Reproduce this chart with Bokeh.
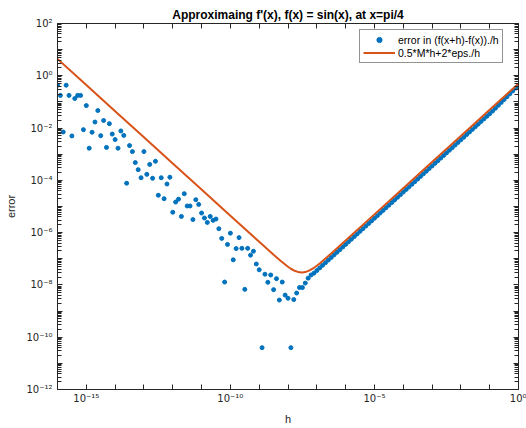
from bokeh.plotting import figure
from bokeh.models import (FixedTicker, LogAxis, Legend, LegendItem,
                          CustomJSTickFormatter, Range1d)
from bokeh.embed import file_html
from bokeh.resources import INLINE

# ---- data (log10 values) ----
h_exp = [
    -16.0, -15.9, -15.8, -15.7, -15.6, -15.5, -15.4, -15.3, -15.2, -15.1,
    -15.0, -14.9, -14.8, -14.7, -14.6, -14.5, -14.4, -14.3, -14.2, -14.1,
    -14.0, -13.9, -13.8, -13.7, -13.6, -13.5, -13.4, -13.3, -13.2, -13.1,
    -13.0, -12.9, -12.8, -12.7, -12.6, -12.5, -12.4, -12.3, -12.2, -12.1,
    -12.0, -11.9, -11.8, -11.7, -11.6, -11.5, -11.4, -11.3, -11.2, -11.1,
    -11.0, -10.9, -10.8, -10.7, -10.6, -10.5, -10.4, -10.3, -10.2, -10.1,
    -10.0, -9.9, -9.8, -9.7, -9.6, -9.5, -9.4, -9.3, -9.2, -9.1,
    -9.0, -8.9, -8.8, -8.7, -8.6, -8.5, -8.4, -8.3, -8.2, -8.1,
    -8.0, -7.9, -7.8, -7.7, -7.6, -7.5, -7.4, -7.3, -7.2, -7.1,
    -7.0, -6.9, -6.8, -6.7, -6.6, -6.5, -6.4, -6.3, -6.2, -6.1,
    -6.0, -5.9, -5.8, -5.7, -5.6, -5.5, -5.4, -5.3, -5.2, -5.1,
    -5.0, -4.9, -4.8, -4.7, -4.6, -4.5, -4.4, -4.3, -4.2, -4.1,
    -4.0, -3.9, -3.8, -3.7, -3.6, -3.5, -3.4, -3.3, -3.2, -3.1,
    -3.0, -2.9, -2.8, -2.7, -2.6, -2.5, -2.4, -2.3, -2.2, -2.1,
    -2.0, -1.9, -1.8, -1.7, -1.6, -1.5, -1.4, -1.3, -1.2, -1.1,
    -1.0, -0.9, -0.8, -0.7, -0.6, -0.5, -0.4, -0.3, -0.2, -0.1,
    0.0,
]
err_exp = [
    -0.36, -0.75, -2.15, -0.36, -0.75, -2.30, -0.87, -0.75, -0.75, -2.06,
    -1.14, -2.77, -2.16, -1.77, -1.33, -2.29, -1.71, -2.74, -1.83, -2.23,
    -2.44, -2.77, -2.11, -2.28, -4.11, -2.67, -2.90, -3.32, -3.59, -3.90,
    -2.90, -3.77, -3.39, -3.92, -3.27, -4.57, -3.90, -4.70, -4.14, -3.88,
    -5.22, -4.83, -4.72, -5.38, -4.51, -4.98, -4.98, -5.50, -4.74, -4.92,
    -5.25, -5.44, -5.61, -5.38, -5.53, -5.48, -5.85, -6.22, -7.89, -6.45,
    -6.02, -7.04, -6.61, -6.19, -6.60, -8.17, -6.60, -6.86, -6.71, -7.20,
    -7.42, -10.40, -7.59, -7.90, -7.62, -8.18, -7.76, -8.58, -7.89, -8.39,
    -8.51, -10.40, -8.56, -8.31, -8.10, -8.10, -7.93, -7.74, -7.62, -7.55,
    -7.45, -7.35, -7.25, -7.15, -7.05, -6.95, -6.85, -6.75, -6.65, -6.55,
    -6.45, -6.35, -6.25, -6.15, -6.05, -5.95, -5.85, -5.75, -5.65, -5.55,
    -5.45, -5.35, -5.25, -5.15, -5.05, -4.95, -4.85, -4.75, -4.65, -4.55,
    -4.45, -4.35, -4.25, -4.15, -4.05, -3.95, -3.85, -3.75, -3.65, -3.55,
    -3.45, -3.35, -3.25, -3.15, -3.05, -2.95, -2.85, -2.75, -2.65, -2.55,
    -2.45, -2.35, -2.25, -2.15, -2.05, -1.95, -1.85, -1.75, -1.65, -1.55,
    -1.45, -1.35, -1.24, -1.13, -1.02, -0.91, -0.80, -0.69, -0.58, -0.47,
    -0.36,
]
line_h_exp = [-16, -15, -14, -13, -12, -11, -10, -9, -8.75, -8.5, -8.25, -8,
              -7.9, -7.75, -7.6, -7.5, -7.4, -7.25, -7.1, -7, -6.9, -6.75,
              -6.5, -6.25, -6, -5, -4, -3, -2, -1, 0]
line_err_exp = [0.647, -0.353, -1.353, -2.353, -3.353, -4.353, -5.353, -6.352,
                -6.601, -6.848, -7.087, -7.306, -7.381, -7.470, -7.519, -7.525,
                -7.508, -7.444, -7.344, -7.264, -7.177, -7.039, -6.797, -6.550,
                -6.301, -5.301, -4.301, -3.301, -2.301, -1.301, -0.301]

x_tick_exp = list(range(-16, 1))
x_label_exp = [-15, -10, -5, 0]
x_label_txt = ["10\u207b\u00b9\u2075", "10\u207b\u00b9\u2070", "10\u207b\u2075", "10\u2070"]
y_tick_exp = list(range(-12, 3))
y_label_exp = [-12, -10, -8, -6, -4, -2, 0, 2]
y_label_txt = ["10\u207b\u00b9\u00b2", "10\u207b\u00b9\u2070", "10\u207b\u2078", "10\u207b\u2076",
               "10\u207b\u2074", "10\u207b\u00b2", "10\u2070", "10\u00b2"]

title_txt = "Approximaing f'(x), f(x) = sin(x), at x=pi/4"
legend_txt = ["error in (f(x+h)-f(x))./h", "0.5*M*h+2*eps./h"]

h = [10.0 ** e for e in h_exp]
err = [10.0 ** e for e in err_exp]
line_h = [10.0 ** e for e in line_h_exp]
line_err = [10.0 ** e for e in line_err_exp]

FONT = "Liberation Sans"
TICKFONT = "DejaVu Sans"
TXT = "#262626"
BLUE = "#0072BD"
ORANGE = "#D95319"

p = figure(width=526, height=428, x_axis_type="log", y_axis_type="log",
           x_range=Range1d(1e-16, 1.0), y_range=Range1d(1e-12, 1e2),
           output_backend="svg", toolbar_location=None,
           min_border_left=57, min_border_right=8, min_border_top=23,
           min_border_bottom=39)
p.background_fill_color = "white"
p.border_fill_color = "white"
p.outline_line_color = TXT
p.xgrid.visible = False
p.ygrid.visible = False

p.title.text = title_txt
p.title.text_font = FONT
p.title.text_font_size = "12px"
p.title.text_font_style = "bold"
p.title.text_color = "black"
p.title.align = "center"
p.title.standoff = 3

code = """
const e = Math.round(Math.log10(tick));
const i = exps.indexOf(e);
return i >= 0 ? labels[i] : "";
"""
xfmt = CustomJSTickFormatter(args=dict(exps=x_label_exp, labels=x_label_txt), code=code)
yfmt = CustomJSTickFormatter(args=dict(exps=y_label_exp, labels=y_label_txt), code=code)
blank = CustomJSTickFormatter(code="return '';")

x_ticks = [10.0 ** e for e in x_tick_exp]
y_ticks = [10.0 ** e for e in y_tick_exp]
y_minor = [m * 10.0 ** e for e in y_tick_exp[:-1] for m in range(2, 10)]


def style_axis(ax, ticker, fmt, label_size="10px"):
    ax.ticker = ticker
    ax.formatter = fmt
    ax.axis_line_color = TXT
    ax.major_tick_line_color = TXT
    ax.minor_tick_line_color = TXT
    ax.major_tick_in = 5
    ax.major_tick_out = 0
    ax.minor_tick_in = 4
    ax.minor_tick_out = 0
    ax.major_label_text_font = TICKFONT
    ax.major_label_text_font_size = label_size
    ax.major_label_text_color = TXT
    ax.axis_label_text_font = FONT
    ax.axis_label_text_font_size = "11px"
    ax.axis_label_text_font_style = "normal"
    ax.axis_label_text_color = TXT


xt = FixedTicker(ticks=x_ticks, minor_ticks=[])
yt = FixedTicker(ticks=y_ticks, minor_ticks=y_minor)

style_axis(p.xaxis[0], xt, xfmt)
p.xaxis[0].axis_label = "h"
p.xaxis[0].major_label_standoff = 3
p.xaxis[0].axis_label_standoff = 6

style_axis(p.yaxis[0], yt, yfmt)
p.yaxis[0].axis_label = "error"
p.yaxis[0].major_label_standoff = 5
p.yaxis[0].axis_label_standoff = 6

top = LogAxis()
style_axis(top, FixedTicker(ticks=x_ticks, minor_ticks=[]), blank, "0px")
top.major_label_standoff = 0
p.add_layout(top, "above")
right = LogAxis()
style_axis(right, FixedTicker(ticks=y_ticks, minor_ticks=y_minor), blank, "0px")
right.major_label_standoff = 0
p.add_layout(right, "right")

r_dots = p.scatter(h, err, marker="circle", size=4, color=BLUE, line_color=BLUE)
r_line = p.line(line_h, line_err, line_width=2, color=ORANGE)

legend = Legend(items=[LegendItem(label=legend_txt[0], renderers=[r_dots]),
                       LegendItem(label=legend_txt[1], renderers=[r_line])],
                location=(302, 326))
legend.label_text_font = FONT
legend.label_text_font_size = "10.5px"
legend.label_text_color = "black"
legend.border_line_color = TXT
legend.border_line_width = 1
legend.background_fill_color = "white"
legend.background_fill_alpha = 1.0
legend.padding = 3
legend.spacing = 0
legend.margin = 0
legend.glyph_height = 13
legend.label_height = 13
legend.glyph_width = 32
legend.label_standoff = 3
p.add_layout(legend)

open("out.html", "w").write(file_html(p, INLINE))
